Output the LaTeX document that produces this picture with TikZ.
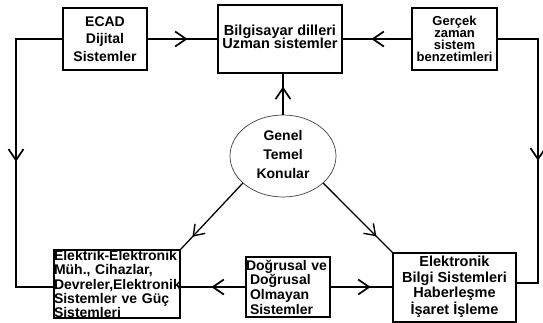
\documentclass[tikz,border=0pt]{standalone}
\usepackage{fontspec}
\setmainfont{Liberation Sans}
\usetikzlibrary{shapes.geometric,decorations.markings,arrows.meta}
\tikzset{
  box/.style={draw, line width=1.3pt, inner sep=0pt, align=center, font=\bfseries},
  conn/.style={line width=2.1pt},
  thin conn/.style={line width=1.3pt},
  vtip/.style={postaction={decorate}, decoration={markings,
     mark=at position #1 with {\arrow[line width=1.7pt]{Straight Barb[length=11pt,width=15pt]}}}},
  vtips/.style={postaction={decorate}, decoration={markings,
     mark=at position #1 with {\arrow[line width=1.4pt]{Straight Barb[length=10pt,width=14pt]}}}},
}
\begin{document}
\begin{tikzpicture}[x=1pt,y=-1pt]
\useasboundingbox (0,0) rectangle (543,323);
\node[box, minimum width=84pt, minimum height=62pt, font=\bfseries\fontsize{14}{17.5}\selectfont] (ecad) at (105,39) {ECAD\\Dijital\\Sistemler};
\node[box, minimum width=124pt, minimum height=68pt, font=\bfseries\fontsize{14.5}{13.5}\selectfont] (bilg) at (280,39) {\raisebox{2pt}{\begin{tabular}{@{}c@{}}Bilgisayar dilleri\\[-1.5pt]Uzman sistemler\end{tabular}}};
\node[box, minimum width=85pt, minimum height=62pt, font=\bfseries\fontsize{13}{12}\selectfont] (gercek) at (454.5,39) {Gerçek\\zaman\\sistem\\benzetimleri};
\node[draw, ellipse, line width=0.7pt, draw=black!75, minimum width=106pt, minimum height=82pt, inner sep=0pt, align=center, font=\bfseries\fontsize{14}{19}\selectfont] (gen) at (283,156) {\raisebox{4pt}{\begin{tabular}{@{}c@{}}Genel\\Temel\\Konular\end{tabular}}};
\node[box, text width=126pt, minimum height=68pt, align=left, font=\bfseries\fontsize{14}{14.2}\selectfont] (elk) at (117,284) {\mbox{Elektrik-Elektronik}\\\mbox{Müh., Cihazlar,}\\\mbox{Devreler,Elektronik}\\\mbox{Sistemler ve Güç}\\\mbox{Sistemleri}};
\node[box, text width=84pt, minimum height=60pt, align=left, font=\bfseries\fontsize{14}{14.7}\selectfont] (dog) at (288,287) {\mbox{Doğrusal ve}\\\mbox{\hspace{4pt}Doğrusal}\\\mbox{\hspace{4pt}Olmayan}\\\mbox{\hspace{4pt}Sistemler}};
\node[box, minimum width=123pt, minimum height=69pt, font=\bfseries\fontsize{14.5}{15.5}\selectfont] (eln) at (454.5,287.5) {\raisebox{3pt}{\begin{tabular}{@{}c@{}}Elektronik\\Bilgi Sistemleri\\Haberleşme\\İşaret İşleme\end{tabular}}};
% connectors
\draw[conn, vtip=40pt] (ecad.east) -- (ecad.east -| bilg.west);
\draw[conn, vtip=40pt] (gercek.west) -- (gercek.west -| bilg.east);
\draw[conn, vtip=169pt] (ecad.west) -| (16,287) -- (elk.west |- 0,287);
\draw[conn, vtip=162pt] (gercek.east) -| (538,283) -- (eln.east |- 0,283);
\draw[conn, vtip=28pt] (gen.north) -- (gen.north |- bilg.south);
\draw[conn, vtip=34pt] (dog.west) -- (dog.west -| elk.east);
\draw[conn, vtip=40pt] (dog.east) -- (dog.east -| eln.west);
\draw[thin conn, vtips=0.81] (gen.-146) -- (elk.north east);
\draw[thin conn, vtips=0.77] (gen.-34) -- (eln.north west);
\end{tikzpicture}
\end{document}
